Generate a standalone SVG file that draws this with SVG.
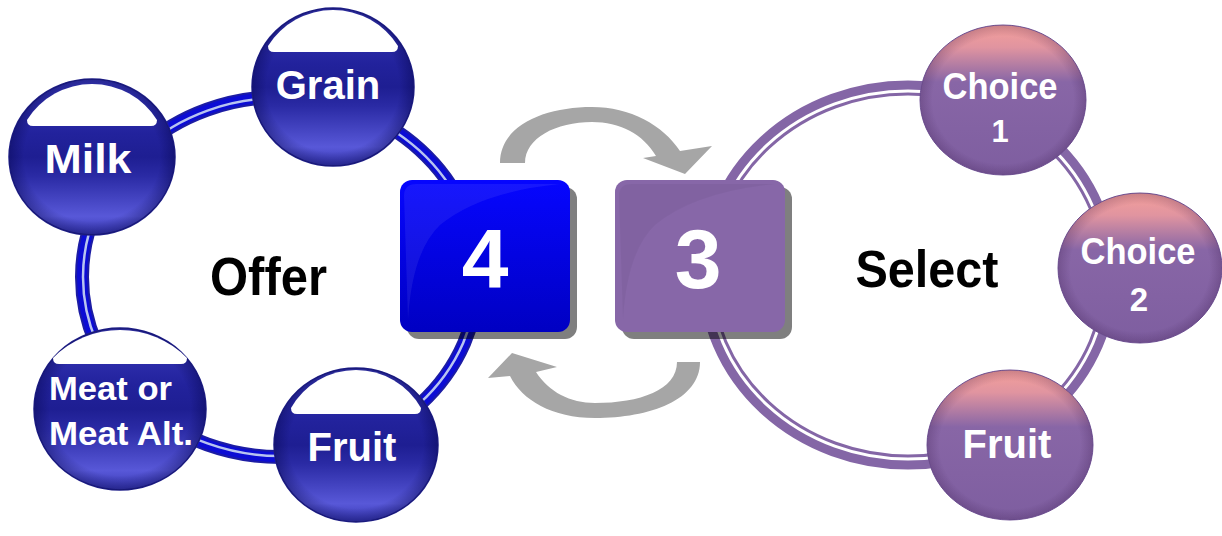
<svg xmlns="http://www.w3.org/2000/svg" width="1222" height="536" viewBox="0 0 1222 536">
<defs>
  <linearGradient id="gBlue" x1="0" y1="0" x2="0" y2="1">
    <stop offset="0" stop-color="#3c3cc0"/>
    <stop offset="0.35" stop-color="#22229c"/>
    <stop offset="0.5" stop-color="#1e1e92"/>
    <stop offset="0.62" stop-color="#2a2aa4"/>
    <stop offset="0.88" stop-color="#5858d8"/>
    <stop offset="1" stop-color="#3838b4"/>
  </linearGradient>
  <linearGradient id="gPurp" x1="0" y1="0" x2="0" y2="1">
    <stop offset="0" stop-color="#f5a09a"/>
    <stop offset="0.15" stop-color="#e094a0"/>
    <stop offset="0.38" stop-color="#8866a6"/>
    <stop offset="1" stop-color="#7e5ea0"/>
  </linearGradient>
  <radialGradient id="gRimB" cx="0.5" cy="0.5" r="0.5">
    <stop offset="0.82" stop-color="#000040" stop-opacity="0"/>
    <stop offset="1" stop-color="#000040" stop-opacity="0.35"/>
  </radialGradient>
  <radialGradient id="gRimP" cx="0.5" cy="0.5" r="0.5">
    <stop offset="0.85" stop-color="#301040" stop-opacity="0"/>
    <stop offset="1" stop-color="#301040" stop-opacity="0.22"/>
  </radialGradient>
  <linearGradient id="gBox4" x1="0" y1="0" x2="0" y2="1">
    <stop offset="0" stop-color="#0606ff"/>
    <stop offset="1" stop-color="#0000c2"/>
  </linearGradient>
</defs>
<style>
  .lbl{font-family:"Liberation Sans",Arial,sans-serif;font-weight:bold;fill:#ffffff;text-anchor:middle}
  .lft{text-anchor:start}
  .big{font-family:"Liberation Sans",Arial,sans-serif;font-weight:bold;fill:#000000;text-anchor:middle}
  .cap{fill:#ffffff}
  .bsph{fill:url(#gBlue);stroke:#20208a;stroke-width:1.5}
  .brim{fill:url(#gRimB)}
  .psph{fill:url(#gPurp);stroke:#74569a;stroke-width:1}
  .prim{fill:url(#gRimP)}
  .shadow{fill:#000000;fill-opacity:0.5}
  .arrow{fill:#a6a6a6}
  .ringB{fill:none;stroke:#1c1ca4;stroke-width:14}
  .ringBm{fill:none;stroke:#0c0cd4;stroke-width:10}
  .ringBl{fill:none;stroke:#b8c4f0;stroke-width:2.5}
  .ringP{fill:none;stroke:#8466a6;stroke-width:15}
  .ringPl{fill:none;stroke:#ffffff;stroke-width:3}
</style>

<g id="connectors">
  <ellipse class="ringB" cx="280" cy="277" rx="198" ry="180"/>
  <ellipse class="ringBm" cx="280" cy="277" rx="198" ry="180"/>
  <ellipse class="ringBl" cx="280" cy="277" rx="197" ry="179"/>
  <ellipse class="ringP" cx="908" cy="275" rx="202" ry="187"/>
  <ellipse class="ringPl" cx="908" cy="275" rx="199" ry="184"/>
  <path class="arrow" d="M500,163 C500,125 545,107 592,107 C630,107 663,125 680,151 L712,146 L685,174 L643,158 L656,156 C643,134 620,122 592,122 C556,122 525,138 525,163 Z"/>
  <path class="arrow" d="M700,362 C700,400 650,418 595,418 C552,418 522,400 510,376 L488,378 L512,353 L557,367 L536,372 C549,392 570,403 595,403 C640,403 677,390 677,362 Z"/>
</g>

<g id="box4">
  <rect class="shadow" x="407" y="187" width="170" height="152" rx="12"/>
  <rect x="400" y="180" width="170" height="152" rx="12" fill="url(#gBox4)"/>
  <path d="M404,196 Q404,184 416,184 L560,184 Q480,192 440,225 Q412,252 408,320 Z" fill="#ffffff" fill-opacity="0.07"/>
  <text class="lbl" x="485" y="288" font-size="84">4</text>
</g>

<g id="box3">
  <rect class="shadow" x="622" y="187" width="170" height="152" rx="12"/>
  <rect x="615" y="180" width="170" height="152" rx="12" fill="#8767a8"/>
  <path d="M619,196 Q619,184 631,184 L775,184 Q695,192 655,225 Q627,252 623,320 Z" fill="#000000" fill-opacity="0.04"/>
  <text class="lbl" x="698" y="288" font-size="84">3</text>
</g>

<g id="offer">
  <text class="big" x="268.5" y="295" font-size="53" textLength="117" lengthAdjust="spacingAndGlyphs">Offer</text>
</g>
<g id="select">
  <text class="big" x="927" y="287" font-size="52" textLength="143" lengthAdjust="spacingAndGlyphs">Select</text>
</g>

<g id="grain">
  <ellipse class="bsph" cx="333" cy="87" rx="81" ry="79"/>
  <ellipse class="brim" cx="333" cy="87" rx="81" ry="79"/>
  <path class="cap" d="M268,46 Q268,52 274,52 L392,52 Q398,52 398,46 A76.7,76.7 0 0 0 268,46 Z"/>
  <text class="lbl" x="328" y="99" font-size="40">Grain</text>
</g>

<g id="milk">
  <ellipse class="bsph" cx="92" cy="157" rx="83" ry="78"/>
  <ellipse class="brim" cx="92" cy="157" rx="83" ry="78"/>
  <path class="cap" d="M27,120 Q27,126 33,126 L151,126 Q157,126 157,120 A76.7,76.7 0 0 0 27,120 Z"/>
  <text class="lbl" x="88" y="173" font-size="40" textLength="87" lengthAdjust="spacingAndGlyphs">Milk</text>
</g>

<g id="meat">
  <ellipse class="bsph" cx="120" cy="409" rx="86" ry="81"/>
  <ellipse class="brim" cx="120" cy="409" rx="86" ry="81"/>
  <path class="cap" d="M53,358 Q53,364 59,364 L181,364 Q187,364 187,358 A94,94 0 0 0 53,358 Z"/>
  <text class="lbl lft" x="49" y="400" font-size="33" textLength="123" lengthAdjust="spacingAndGlyphs">Meat or</text>
  <text class="lbl lft" x="49" y="445" font-size="33" textLength="144" lengthAdjust="spacingAndGlyphs">Meat Alt.</text>
</g>

<g id="fruitL">
  <ellipse class="bsph" cx="356" cy="445" rx="82" ry="77"/>
  <ellipse class="brim" cx="356" cy="445" rx="82" ry="77"/>
  <path class="cap" d="M291,408 Q291,414 297,414 L415,414 Q421,414 421,408 A74.6,74.6 0 0 0 291,408 Z"/>
  <text class="lbl" x="352" y="461" font-size="40">Fruit</text>
</g>

<g id="choice1">
  <ellipse class="psph" cx="1003" cy="100" rx="83" ry="75"/>
  <ellipse class="prim" cx="1003" cy="100" rx="83" ry="75"/>
  <text class="lbl" x="1000" y="99" font-size="37" textLength="115" lengthAdjust="spacingAndGlyphs">Choice</text>
  <text class="lbl" x="1000" y="142" font-size="31">1</text>
</g>

<g id="choice2">
  <ellipse class="psph" cx="1140" cy="268" rx="82" ry="75"/>
  <ellipse class="prim" cx="1140" cy="268" rx="82" ry="75"/>
  <text class="lbl" x="1138" y="264" font-size="37" textLength="115" lengthAdjust="spacingAndGlyphs">Choice</text>
  <text class="lbl" x="1139" y="311" font-size="33">2</text>
</g>

<g id="fruitR">
  <ellipse class="psph" cx="1010" cy="445" rx="83" ry="75"/>
  <ellipse class="prim" cx="1010" cy="445" rx="83" ry="75"/>
  <text class="lbl" x="1007" y="458" font-size="40">Fruit</text>
</g>
</svg>
